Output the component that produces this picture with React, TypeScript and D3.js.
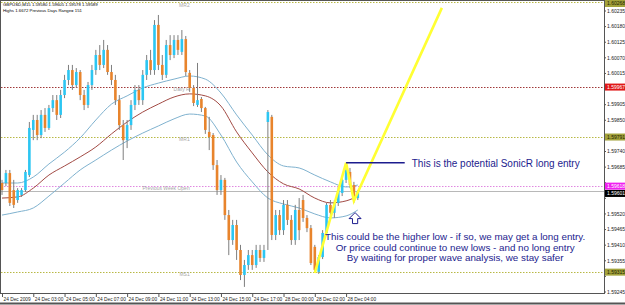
import React from 'react';
import * as d3 from 'd3';

const opens = [1.59629,1.59629,1.59664,1.59604,1.59569,1.59587,1.59604,1.59657,1.59816,1.59851,1.59798,1.59869,1.59823,1.59893,1.59921,1.59869,1.59939,1.59992,1.60027,1.59974,1.60020,1.59939,1.59904,1.59974,1.60027,1.60080,1.60045,1.60098,1.60020,1.59992,1.59921,1.59833,1.59780,1.59833,1.59904,1.59957,1.59921,1.60010,1.60062,1.60027,1.60186,1.60045,1.60010,1.60115,1.60080,1.60133,1.60091,1.60136,1.60017,1.59964,1.59904,1.59925,1.59893,1.59809,1.59798,1.59692,1.59604,1.59640,1.59516,1.59428,1.59481,1.59393,1.59305,1.59340,1.59375,1.59340,1.59393,1.59365,1.59844,1.59862,1.59446,1.59516,1.59463,1.59552,1.59499,1.59428,1.59534,1.59569,1.59506,1.59470,1.59404,1.59316,1.59368,1.59453,1.59552,1.59524,1.59559,1.59594,1.59640,1.59668,1.59622,1.59576];
const highs = [1.59640,1.59675,1.59675,1.59640,1.59611,1.59611,1.59675,1.59844,1.59869,1.59869,1.59886,1.59893,1.59904,1.59939,1.59939,1.59957,1.60010,1.60045,1.60045,1.60034,1.60027,1.59957,1.59985,1.60045,1.60098,1.60115,1.60133,1.60115,1.60045,1.60010,1.59939,1.59851,1.59851,1.59921,1.59974,1.59974,1.60027,1.60080,1.60098,1.60203,1.60221,1.60080,1.60133,1.60150,1.60150,1.60150,1.60168,1.60147,1.60027,1.59974,1.60052,1.59932,1.59897,1.59862,1.59805,1.59710,1.59657,1.59647,1.59534,1.59499,1.59499,1.59411,1.59358,1.59393,1.59393,1.59411,1.59411,1.59411,1.59886,1.59869,1.59534,1.59534,1.59569,1.59569,1.59516,1.59552,1.59576,1.59587,1.59516,1.59481,1.59411,1.59375,1.59463,1.59559,1.59569,1.59569,1.59615,1.59650,1.59700,1.59682,1.59633,1.59604];
const lows = [1.59587,1.59618,1.59548,1.59541,1.59559,1.59580,1.59597,1.59650,1.59780,1.59780,1.59787,1.59809,1.59816,1.59879,1.59851,1.59858,1.59928,1.59974,1.59957,1.59964,1.59921,1.59886,1.59893,1.59957,1.60010,1.60027,1.60034,1.60010,1.59974,1.59904,1.59816,1.59710,1.59752,1.59816,1.59886,1.59904,1.59904,1.59992,1.60010,1.60010,1.60027,1.59992,1.59999,1.60062,1.60069,1.60080,1.60080,1.60006,1.59950,1.59900,1.59897,1.59879,1.59802,1.59745,1.59675,1.59587,1.59587,1.59499,1.59375,1.59411,1.59358,1.59287,1.59263,1.59323,1.59323,1.59330,1.59351,1.59351,1.59393,1.59428,1.59428,1.59446,1.59446,1.59481,1.59411,1.59411,1.59428,1.59492,1.59456,1.59340,1.59312,1.59309,1.59361,1.59442,1.59513,1.59506,1.59548,1.59583,1.59629,1.59611,1.59559,1.59569];
const closes = [1.59604,1.59664,1.59559,1.59552,1.59604,1.59604,1.59668,1.59823,1.59851,1.59798,1.59869,1.59823,1.59893,1.59921,1.59869,1.59939,1.59992,1.60027,1.59974,1.60020,1.59939,1.59904,1.59974,1.60027,1.60080,1.60045,1.60098,1.60020,1.59992,1.59921,1.59833,1.59780,1.59833,1.59904,1.59957,1.59921,1.60010,1.60062,1.60027,1.60186,1.60045,1.60010,1.60115,1.60080,1.60133,1.60098,1.60136,1.60020,1.59964,1.59911,1.59921,1.59893,1.59816,1.59791,1.59692,1.59604,1.59640,1.59516,1.59428,1.59481,1.59393,1.59305,1.59340,1.59375,1.59340,1.59393,1.59365,1.59393,1.59879,1.59446,1.59516,1.59463,1.59552,1.59499,1.59428,1.59534,1.59463,1.59506,1.59470,1.59347,1.59323,1.59368,1.59453,1.59552,1.59524,1.59559,1.59604,1.59640,1.59675,1.59622,1.59569,1.59601];

const maBars = [0,4,8,12,16,20,24,28,32,36,40,44,48,52,56,60,64,68,72,76,80,84,88,91];
const maUpper = [1.59629,1.59629,1.59650,1.59696,1.59738,1.59788,1.59851,1.59907,1.59936,1.59964,1.59981,1.59995,1.60006,1.59995,1.59946,1.59869,1.59798,1.59728,1.59689,1.59682,1.59657,1.59633,1.59615,1.59622];
const maMid = [1.59576,1.59580,1.59611,1.59657,1.59689,1.59721,1.59756,1.59802,1.59844,1.59879,1.59907,1.59932,1.59943,1.59936,1.59900,1.59809,1.59735,1.59668,1.59626,1.59608,1.59576,1.59559,1.59566,1.59583];
const maLower = [1.59516,1.59527,1.59541,1.59583,1.59629,1.59675,1.59710,1.59745,1.59777,1.59805,1.59830,1.59855,1.59872,1.59865,1.59798,1.59703,1.59633,1.59576,1.59555,1.59541,1.59520,1.59506,1.59513,1.59534];

const yTicks = [1.60235,1.60180,1.60125,1.60070,1.60015,1.59960,1.59905,1.59850,1.59795,1.59740,1.59685,1.59630,1.59575,1.59520,1.59465,1.59410,1.59355,1.59300,1.59245];
const xLabels = ['24 Dec 2009','24 Dec 03:00','24 Dec 05:00','24 Dec 07:00','24 Dec 09:00','24 Dec 11:00','24 Dec 13:00','24 Dec 15:00','24 Dec 17:00','28 Dec 00:00','28 Dec 02:00','28 Dec 04:00'];
const xLabelBars = [0,8,16,24,32,40,48,56,64,72,80,88];

const levelNames = ['MR2','Daily R','MR1','Previous Week Open','MS1'];
const levelPrices = [1.60268,1.59967,1.59791,1.59618,1.59315];
const levelKinds = ['olive','red','olive','magenta','olive'];
const currentPrice = 1.59601;

const wavePoints: [number, number][] = [[80,1.59312],[88,1.59700],[90,1.59566],[112.5,1.60246]];
const entryLine: [number, number][] = [[88,1.59700],[103,1.59700]];
const arrowAt: [number, number] = [90.3, 1.59567];

const headerLine1 = 'GBPUSD,M15  1.59580 1.59605 1.59578 1.59589';
const headerLine2 = 'Highs 1.6672     Previous Days Range= 151';
const note1 = 'This is the potential SonicR long entry';
const note2 = ['This could be the higher low - if so, we may get a long entry.', 'Or price could continue to new lows - and no long entry', 'By waiting for proper wave analysis, we stay safer'];

const kindStyle: Record<string, { line: string; box: string; text: string }> = {
  olive: { line: '#b8b845', box: '#a3a33c', text: '#202000' },
  red: { line: '#a03838', box: '#e01818', text: '#ffffff' },
  magenta: { line: '#e088e0', box: '#f020f0', text: '#ffffff' },
};

export default function App() {
  React.useEffect(() => { document.body.style.margin = '0'; }, []);
  const W = 625, H = 305;
  const plotR = 604, plotB = 293;
  const x = d3.scaleLinear().domain([0, 154]).range([2, 604.14]);
  const y = d3.scaleLinear().domain([1.59245, 1.60235]).range([292, 11]);
  const font = 'Liberation Sans, Arial, sans-serif';
  const ma = (vals: number[]) => d3.line<number>().x((_, i) => x(maBars[i])).y(v => y(v)).curve(d3.curveMonotoneX)(vals) || '';
  const wave = d3.line<[number, number]>().x(d => x(d[0])).y(d => y(d[1]))(wavePoints) || '';
  const bw = 2.6;
  const ax = x(arrowAt[0]);
  const ay = y(arrowAt[1]) + 12;
  const arrowPath = `M${ax},${ay} L${ax + 6},${ay + 6} L${ax + 2.6},${ay + 6} L${ax + 2.6},${ay + 11} L${ax - 2.6},${ay + 11} L${ax - 2.6},${ay + 6} L${ax - 6},${ay + 6} Z`;
  const boxY = (p: number) => Math.max(0, y(p) - 3.5);
  const boxes = [...levelPrices.map(p => boxY(p)), y(currentPrice) - 1];
  const visibleTicks = yTicks.filter(t => boxes.every(b => Math.abs(y(t) - (b + 3.5)) > 6.5));
  return (
    <div style={{ position: 'absolute', left: 0, top: 0 }}>
      <svg width={W} height={H} style={{ display: 'block', background: '#ffffff' }}>
        <defs>
          <clipPath id="plot"><rect x={1} y={1} width={plotR - 1} height={plotB - 1} /></clipPath>
        </defs>
        <g clipPath="url(#plot)">
          {levelPrices.map((p, i) => (
            <line key={'lv' + i} x1={1} x2={plotR} y1={Math.round(y(p)) + 0.5} y2={Math.round(y(p)) + 0.5} stroke={kindStyle[levelKinds[i]].line} strokeWidth={1} strokeDasharray="1.5,1.5" />
          ))}
          <line x1={1} x2={plotR} y1={Math.round(y(currentPrice)) + 0.5} y2={Math.round(y(currentPrice)) + 0.5} stroke="#b8b8b8" strokeWidth={1} />
          {levelNames.map((n, i) => (
            <text key={'ln' + i} x={x(48)} y={Math.max(7, y(levelPrices[i]) + 4)} fontSize={5} fontFamily={font} fill="#a8a8a8" textAnchor="end">{n}</text>
          ))}
          <path d={ma(maUpper)} fill="none" stroke="#7fb2cf" strokeWidth={1} />
          <path d={ma(maLower)} fill="none" stroke="#7fb2cf" strokeWidth={1} />
          <path d={ma(maMid)} fill="none" stroke="#a24a44" strokeWidth={1} />
          {opens.map((o, i) => {
            const c = closes[i];
            const bull = c >= o;
            const cx = x(i);
            const top = y(Math.max(o, c));
            const bot = y(Math.min(o, c));
            return (
              <g key={'c' + i}>
                <line x1={cx} x2={cx} y1={y(highs[i])} y2={y(lows[i])} stroke="#7e7e7e" strokeWidth={1} />
                <rect x={cx - bw / 2} y={top} width={bw} height={Math.max(1, bot - top)} fill={bull ? '#2cc6f2' : '#e8842c'} />
              </g>
            );
          })}
          <path d={wave} fill="none" stroke="#ffff33" strokeWidth={2.6} strokeLinejoin="miter" />
          <line x1={x(entryLine[0][0])} x2={x(entryLine[1][0])} y1={y(entryLine[0][1])} y2={y(entryLine[1][1])} stroke="#1c1c8e" strokeWidth={1.5} />
          <text x={x(104.8)} y={y(entryLine[0][1]) + 4} fontSize={10} fontFamily={font} fill="#1c1c8e">{note1}</text>
          <path d={arrowPath} fill="#ffffff" stroke="#1c1c8e" strokeWidth={1} />
          {note2.map((t, i) => (
            <text key={'n' + i} x={x(115.9)} y={240 + i * 10.5} fontSize={9.8} fontFamily={font} fill="#1c1c8e" textAnchor="middle">{t}</text>
          ))}
        </g>
        <text x={3} y={6} fontSize={4.3} fontFamily={font} fill="#000">{headerLine1}</text>
        <text x={3} y={12} fontSize={4.3} fontFamily={font} fill="#000">{headerLine2}</text>
        <rect x={0.5} y={0.5} width={plotR} height={plotB} fill="none" stroke="#555" strokeWidth={1} />
        {yTicks.map((t, i) => (
          <line key={'ytl' + i} x1={plotR} x2={plotR + 2} y1={y(t)} y2={y(t)} stroke="#555" />
        ))}
        {visibleTicks.map((t, i) => (
          <text key={'yt' + i} x={plotR + 3} y={y(t) + 1.8} fontSize={5} fontFamily={font} fill="#222">{t.toFixed(5)}</text>
        ))}
        {levelPrices.map((p, i) => (
          <g key={'lb' + i}>
            <rect x={plotR + 1} y={boxY(p)} width={20} height={7} fill={kindStyle[levelKinds[i]].box} />
            <text x={plotR + 3} y={boxY(p) + 5.3} fontSize={5} fontFamily={font} fill={kindStyle[levelKinds[i]].text}>{p.toFixed(5)}</text>
          </g>
        ))}
        <rect x={plotR + 1} y={y(currentPrice) - 1} width={20} height={7} fill="#000" />
        <text x={plotR + 3} y={y(currentPrice) + 4.3} fontSize={5} fontFamily={font} fill="#fff">{currentPrice.toFixed(5)}</text>
        {xLabels.map((l, i) => (
          <g key={'xl' + i}>
            <line x1={x(xLabelBars[i]) + 0.5} x2={x(xLabelBars[i]) + 0.5} y1={plotB} y2={plotB + 4} stroke="#555" />
            <text x={x(xLabelBars[i]) + 1.5} y={plotB + 7.5} fontSize={4.8} fontFamily={font} fill="#222">{l}</text>
          </g>
        ))}
        <line x1={0} x2={W} y1={H - 1.5} y2={H - 1.5} stroke="#555" strokeWidth={2} />
      </svg>
    </div>
  );
}
